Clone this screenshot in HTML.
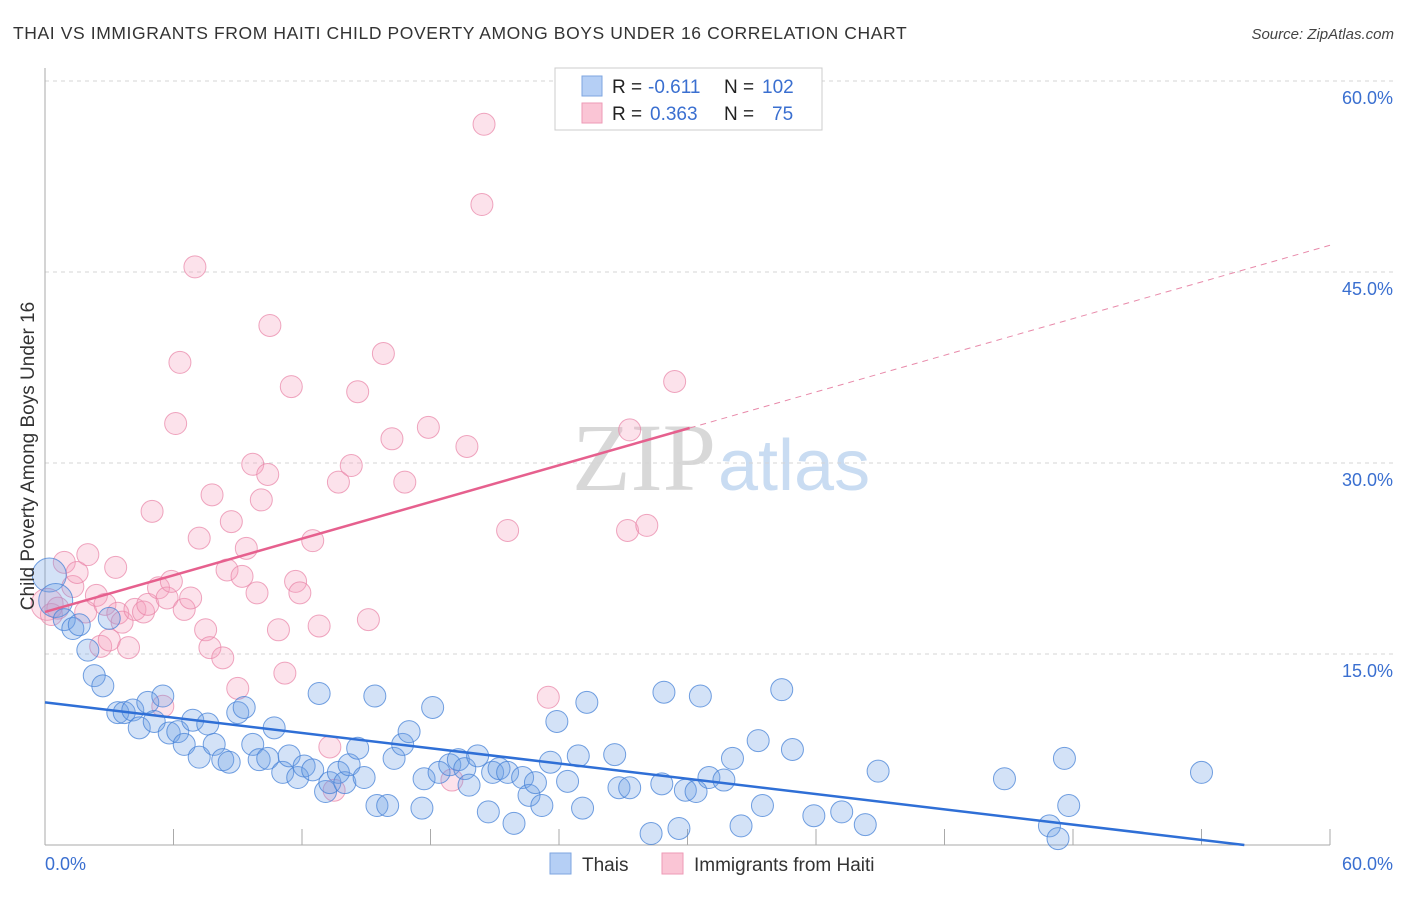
<!DOCTYPE html>
<html><head><meta charset="utf-8"><style>
body{margin:0;background:#fff;font-family:"Liberation Sans",sans-serif}
svg text{font-family:"Liberation Sans",sans-serif}
</style></head><body>
<svg id="c" width="1406" height="892">
<text x="13" y="39" font-size="17.5" fill="#333" letter-spacing="0.6">THAI VS IMMIGRANTS FROM HAITI CHILD POVERTY AMONG BOYS UNDER 16 CORRELATION CHART</text>
<text x="1394" y="39" font-size="15" fill="#444" text-anchor="end" font-style="italic">Source: ZipAtlas.com</text>
<text x="716" y="490" font-size="96" fill="#d8d8d8" text-anchor="end" style="font-family:'Liberation Serif',serif">ZIP</text>
<text x="718" y="490" font-size="72" fill="#c9dcf2">atlas</text>
<g id="grid"></g><g id="pts"></g><g id="lines"></g>
<text transform="translate(34,456) rotate(-90)" font-size="19" fill="#333" text-anchor="middle">Child Poverty Among Boys Under 16</text>
<g>
<rect x="555" y="68" width="267" height="62" fill="#fff" stroke="#ccc"/>
<rect x="582" y="76" width="20" height="20" fill="#b5cff5" stroke="#7ea6e0"/>
<rect x="582" y="103" width="20" height="20" fill="#fac5d5" stroke="#ee9ab6"/>
<text x="612" y="93" font-size="19" fill="#222">R =</text>
<text x="648" y="93" font-size="19" fill="#3a6fd0">-0.611</text>
<text x="724" y="93" font-size="19" fill="#222">N =</text>
<text x="762" y="93" font-size="19" fill="#3a6fd0">102</text>
<text x="612" y="120" font-size="19" fill="#222">R =</text>
<text x="650" y="120" font-size="19" fill="#3a6fd0">0.363</text>
<text x="724" y="120" font-size="19" fill="#222">N =</text>
<text x="772" y="120" font-size="19" fill="#3a6fd0">75</text>
</g>
<g>
<rect x="550" y="853" width="21" height="21" fill="#b5cff5" stroke="#7ea6e0"/>
<text x="582" y="871" font-size="19" fill="#333">Thais</text>
<rect x="662" y="853" width="21" height="21" fill="#fac5d5" stroke="#ee9ab6"/>
<text x="694" y="871" font-size="19" fill="#333">Immigrants from Haiti</text>
</g>
</svg>
<script>
const yTicks=[15,30,45,60];
const yTickLabels=["15.0%","30.0%","45.0%","60.0%"];
const xTickCount=10;
const thaiX=[0.2,0.5,0.9,1.3,1.6,2.0,2.3,2.7,3.0,3.4,3.7,4.1,4.4,4.8,5.1,5.5,5.8,6.2,6.5,6.9,7.2,7.6,7.9,8.3,8.6,9.0,9.3,9.7,10.0,10.4,10.7,11.1,11.4,11.8,12.1,12.5,12.8,13.1,13.3,13.7,14.0,14.2,14.6,14.9,15.4,15.5,16.0,16.3,16.7,17.0,17.6,17.7,18.1,18.4,18.9,19.3,19.6,19.8,20.2,20.7,20.9,21.2,21.6,21.9,22.3,22.6,22.9,23.2,23.6,23.9,24.4,24.9,25.1,25.3,26.6,26.8,27.3,28.3,28.8,28.9,29.6,29.9,30.4,30.6,31.0,31.7,32.1,32.5,33.3,33.5,34.4,34.9,35.9,37.2,38.3,38.9,44.8,46.9,47.3,47.6,47.8,54.0];
const thaiY=[21.2,19.2,17.7,17.0,17.3,15.3,13.3,12.5,17.8,10.4,10.4,10.6,9.2,11.2,9.7,11.7,8.8,8.9,7.9,9.8,6.9,9.5,7.9,6.7,6.5,10.4,10.8,7.9,6.7,6.8,9.2,5.7,7.0,5.3,6.2,5.9,11.9,4.2,4.9,5.7,4.9,6.3,7.6,5.3,11.7,3.1,3.1,6.8,7.9,8.9,2.9,5.2,10.8,5.7,6.3,6.7,6.0,4.7,7.0,2.6,5.7,6.0,5.7,1.7,5.3,3.9,4.9,3.1,6.5,9.7,5.0,7.0,2.9,11.2,7.1,4.5,4.5,0.9,4.8,12.0,1.3,4.3,4.2,11.7,5.3,5.1,6.8,1.5,8.2,3.1,12.2,7.5,2.3,2.6,1.6,5.8,5.2,1.5,0.5,6.8,3.1,5.7];
const haitiX=[0.1,0.3,0.6,0.9,1.3,1.5,1.9,2.0,2.4,2.6,2.8,3.0,3.3,3.4,3.6,3.9,4.2,4.6,4.8,5.0,5.3,5.5,5.7,5.9,6.1,6.3,6.5,6.8,7.0,7.2,7.5,7.7,7.8,8.3,8.5,8.7,9.0,9.2,9.4,9.7,9.9,10.1,10.4,10.5,10.9,11.2,11.5,11.7,11.9,12.5,12.8,13.3,13.5,13.7,14.3,14.6,15.1,15.8,16.2,16.8,17.9,19.0,19.7,20.4,20.5,21.6,23.5,27.2,27.3,28.1,29.4];
const haitiY=[18.9,18.1,18.6,22.2,20.3,21.4,18.3,22.8,19.6,15.6,18.9,16.1,21.8,18.2,17.5,15.5,18.5,18.3,18.9,26.2,20.2,10.9,19.4,20.7,33.1,37.9,18.5,19.4,45.4,24.1,16.9,15.5,27.5,14.7,21.6,25.4,12.3,21.1,23.3,29.9,19.8,27.1,29.1,40.8,16.9,13.5,36.0,20.7,19.8,23.9,17.2,7.7,4.3,28.5,29.8,35.6,17.7,38.6,31.9,28.5,32.8,5.1,31.3,50.3,56.6,24.7,11.6,24.7,32.6,25.1,36.4];
const thaiTrend=[11.2,-0.2];   // intercept, slope
const haitiTrend=[18.3,0.48];
const X0=45,X1=1330,Y0=845,Y1=81;
const sx=v=>X0+(X1-X0)*v/60, sy=v=>Y0-(Y0-Y1)*v/60;
const NS="http://www.w3.org/2000/svg";
function mk(t,a,p){const e=document.createElementNS(NS,t);for(const k in a)e.setAttribute(k,a[k]);p.appendChild(e);return e;}
const grid=document.getElementById('grid');
yTicks.forEach((v,i)=>{
 const l=mk('line',{x1:X0,x2:1395,y1:sy(v),y2:sy(v),stroke:'#d5d5d5','stroke-dasharray':'4,4'},grid);
 
 
 const t=mk('text',{x:1393,y:sy(v)+23,'font-size':18,fill:'#3a6fd0','text-anchor':'end'},grid);
 t.textContent=yTickLabels[i];
 
 
});
mk('line',{x1:X0,x2:X0,y1:68,y2:Y0,stroke:'#aaa'},grid);
mk('line',{x1:X0,x2:X1,y1:Y0,y2:Y0,stroke:'#aaa'},grid);
for(let i=1;i<=xTickCount;i++){const x=sx(60*i/xTickCount);mk('line',{x1:x,x2:x,y1:Y0-16,y2:Y0,stroke:'#aaa'},grid);}
let t=mk('text',{x:45,y:870,'font-size':18,fill:'#3a6fd0'},grid);t.textContent='0.0%';


t=mk('text',{x:1393,y:870,'font-size':18,fill:'#3a6fd0','text-anchor':'end'},grid);t.textContent='60.0%';


const pts=document.getElementById('pts');
haitiX.forEach((x,i)=>{const c=mk('circle',{cx:sx(x),cy:sy(haitiY[i]),r:i==0?16:11,fill:'rgba(244,160,188,0.3)',stroke:'rgba(232,130,165,0.7)','stroke-width':1},pts);
 
 });
thaiX.forEach((x,i)=>{const c=mk('circle',{cx:sx(x),cy:sy(thaiY[i]),r:i<2?17:11,fill:'rgba(110,160,230,0.3)',stroke:'rgba(70,130,215,0.75)','stroke-width':1},pts);
 
 });
const lines=document.getElementById('lines');
const tx=(0-thaiTrend[0])/thaiTrend[1];
let l=mk('line',{x1:sx(0),y1:sy(thaiTrend[0]),x2:sx(tx),y2:sy(0),stroke:'#2f6fd6','stroke-width':2.5},lines);


l=mk('line',{x1:sx(0),y1:sy(haitiTrend[0]),x2:sx(30.1),y2:sy(haitiTrend[0]+haitiTrend[1]*30.1),stroke:'#e6608e','stroke-width':2.5},lines);


l=mk('line',{x1:sx(30.1),y1:sy(haitiTrend[0]+haitiTrend[1]*30.1),x2:sx(60),y2:sy(haitiTrend[0]+haitiTrend[1]*60),stroke:'#e88aaa','stroke-width':1,'stroke-dasharray':'6,5'},lines);


</script>
</body></html>
